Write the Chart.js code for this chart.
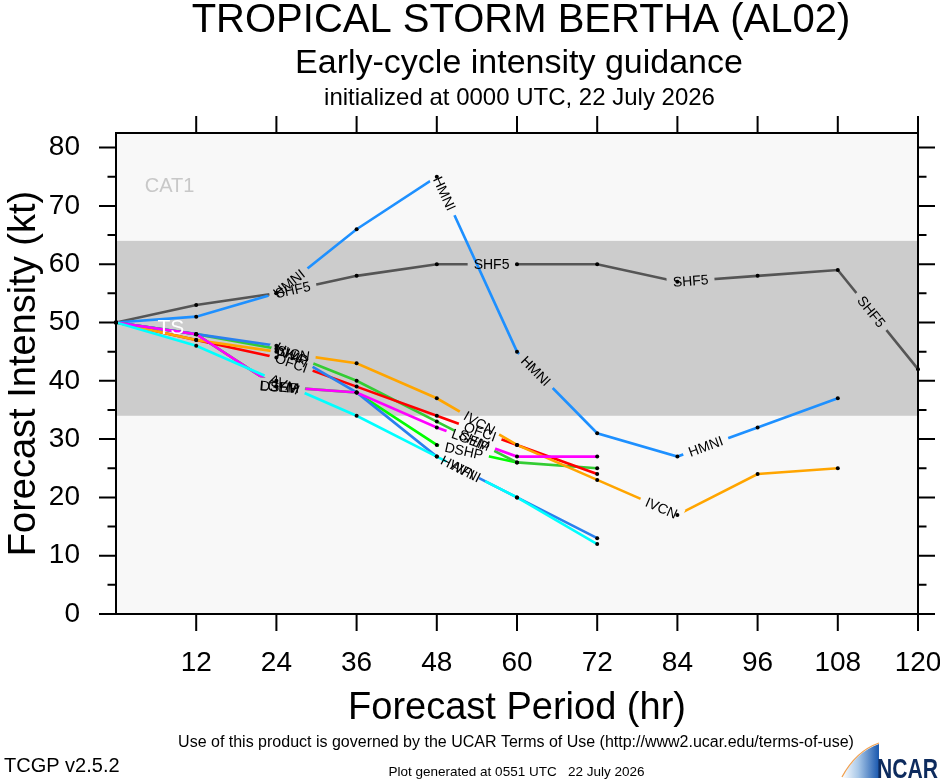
<!DOCTYPE html>
<html><head><meta charset="utf-8">
<script src="https://cdn.jsdelivr.net/npm/chart.js@4.4.1/dist/chart.umd.min.js"></script>
<style>html,body{margin:0;padding:0;background:#fff;}canvas{display:block;}</style>
</head><body>
<canvas id="c" width="940" height="780" style="width:940px;height:780px"></canvas>
<script>
// ---------- data ----------
const hours = [0, 12, 24, 36, 48, 60, 72, 84, 96, 108, 120];
const xTickLabels = ['', '12', '24', '36', '48', '60', '72', '84', '96', '108', '120'];
const yTickLabels = ['0', '10', '20', '30', '40', '50', '60', '70', '80'];
const modelNames = ['SHF5', 'HMNI', 'DSHP', 'SHIP', 'OFCI', 'IVCN', 'HWFI', 'LGEM', 'AVNI'];
const shf5 = [50, 53, 55, 58, 60, 60, 60, 57, 58, 59, 42];
const hmni = [50, 51, 55, 66, 75, 45, 31, 27, 32, 37];
const dshp = [50, 48, 39, 38, 29, 26];
const ship = [50, 48, 45.5, 40, 33, 26, 25];
const ofci = [50, 47, 44, 39, 34, 29, 24];
const ivcn = [50, 47, 45, 43, 37, 29, 23, 17, 24, 25];
const hwfi = [50, 48, 46, 38, 27, 20, 13];
const lgem = [50, 48, 39, 38, 32, 27, 27];
const avni = [50, 46, 40, 34, 27, 20, 12];
const seriesValues = [shf5, hmni, dshp, ship, ofci, ivcn, hwfi, lgem, avni];
const seriesColors = ['#555555', '#1e90ff', '#00ff00', '#33cc33', '#ff0000', '#ffa500', '#2a80ee', '#ff00ff', '#00ffff'];
const tsBand = [34, 64];
const bandNames = ['CAT1', 'TS'];

const FONT = '"Liberation Sans", Arial, Helvetica, sans-serif';
const LABEL_FONT = '14px ' + FONT;
const LABEL_FIRST = 180, LABEL_STEP = 201;

function computeLabels(ctx, pts, text) {
  ctx.save(); ctx.font = LABEL_FONT; const w = ctx.measureText(text).width; ctx.restore();
  const segs = []; let total = 0;
  for (let i = 0; i < pts.length - 1; i++) {
    const dx = pts[i + 1].x - pts[i].x, dy = pts[i + 1].y - pts[i].y, L = Math.hypot(dx, dy);
    segs.push({ a: pts[i], dx, dy, L, s0: total }); total += L;
  }
  const out = [];
  for (let s = LABEL_FIRST; s + w / 2 <= total; s += LABEL_STEP) {
    const g = segs.find(q => s >= q.s0 && s <= q.s0 + q.L);
    if (!g) continue;
    const t = (s - g.s0) / g.L;
    out.push({ x: g.a.x + g.dx * t, y: g.a.y + g.dy * t, ang: Math.atan2(g.dy, g.dx), w, text });
  }
  return out;
}

const decor = {
  id: 'decor',
  beforeDatasetsDraw(chart) {
    const { ctx, chartArea: a, scales: { x, y } } = chart;
    ctx.save();
    ctx.fillStyle = '#f8f8f8';
    ctx.fillRect(a.left, a.top, a.right - a.left, a.bottom - a.top);
    const y1 = y.getPixelForValue(tsBand[1]), y0 = y.getPixelForValue(tsBand[0]);
    ctx.fillStyle = '#cccccc';
    ctx.fillRect(a.left, y1, a.right - a.left, y0 - y1);
    ctx.textAlign = 'left'; ctx.textBaseline = 'middle';
    ctx.font = '20px ' + FONT; ctx.fillStyle = '#c8c8c8';
    ctx.fillText(bandNames[0], x.getPixelForValue(4.3), y.getPixelForValue(73.4));
    ctx.restore();
    chart.data.datasets.forEach((ds, i) => {
      const meta = chart.getDatasetMeta(i);
      meta._lbls = computeLabels(ctx, meta.data.map(p => ({ x: p.x, y: p.y })), ds.label);
    });
  },
  beforeDatasetDraw(chart, args) {
    const ctx = chart.ctx, lbls = args.meta._lbls || [];
    ctx.save();
    ctx.beginPath();
    ctx.rect(0, 0, chart.width, chart.height);
    for (const l of lbls) {
      const hw = l.w / 2 + 6, hh = 8, c = Math.cos(l.ang), s = Math.sin(l.ang);
      const cs = [[-hw, -hh], [hw, -hh], [hw, hh], [-hw, hh]].map(([u, v]) => [l.x + u * c - v * s, l.y + u * s + v * c]);
      ctx.moveTo(cs[0][0], cs[0][1]);
      for (let k = 1; k < 4; k++) ctx.lineTo(cs[k][0], cs[k][1]);
      ctx.closePath();
    }
    ctx.clip('evenodd');
  },
  afterDatasetDraw(chart) { chart.ctx.restore(); },
  afterDatasetsDraw(chart) {
    const { ctx, chartArea: a, scales: { x, y } } = chart;
    ctx.save();
    // TS band name over lines
    ctx.textAlign = 'left'; ctx.textBaseline = 'middle';
    ctx.font = '21px ' + FONT; ctx.fillStyle = '#ffffff';
    ctx.fillText(bandNames[1], x.getPixelForValue(6.2), y.getPixelForValue(49.1));
    // markers
    ctx.fillStyle = '#000';
    chart.data.datasets.forEach((ds, i) => {
      chart.getDatasetMeta(i).data.forEach(p => { ctx.beginPath(); ctx.arc(p.x, p.y, 2, 0, Math.PI * 2); ctx.fill(); });
    });
    // line labels
    ctx.font = LABEL_FONT; ctx.textAlign = 'center'; ctx.textBaseline = 'middle'; ctx.fillStyle = '#000';
    chart.data.datasets.forEach((ds, i) => {
      for (const l of chart.getDatasetMeta(i)._lbls || []) {
        ctx.save(); ctx.translate(l.x, l.y); ctx.rotate(l.ang); ctx.fillText(l.text, 0, 1); ctx.restore();
      }
    });
    // frame & ticks
    ctx.strokeStyle = '#000'; ctx.lineWidth = 2; ctx.lineCap = 'butt';
    ctx.strokeRect(a.left, a.top, a.right - a.left, a.bottom - a.top);
    ctx.beginPath();
    hours.forEach(h => {
      if (h === 0) return;
      const px = x.getPixelForValue(h);
      ctx.moveTo(px, a.bottom); ctx.lineTo(px, a.bottom + 17);
      ctx.moveTo(px, a.top); ctx.lineTo(px, a.top - 17);
    });
    for (let v = 0; v <= 80; v += 5) {
      const py = y.getPixelForValue(v), len = v % 10 === 0 ? 17 : 8.5;
      ctx.moveTo(a.left - len, py); ctx.lineTo(a.left, py);
      ctx.moveTo(a.right, py); ctx.lineTo(a.right + len, py);
    }
    ctx.stroke();
    ctx.restore();
  },
  afterDraw(chart) {
    const ctx = chart.ctx;
    ctx.save();
    ctx.fillStyle = '#000'; ctx.textAlign = 'center'; ctx.textBaseline = 'alphabetic';
    ctx.font = '40px ' + FONT; ctx.fillText('TROPICAL STORM BERTHA (AL02)', 521, 32);
    ctx.font = '34px ' + FONT; ctx.fillText('Early-cycle intensity guidance', 519, 73);
    ctx.font = '24px ' + FONT; ctx.fillText('initialized at 0000 UTC, 22 July 2026', 519.5, 105);
    ctx.font = '16px ' + FONT; ctx.fillText('Use of this product is governed by the UCAR Terms of Use (http://www2.ucar.edu/terms-of-use)', 516, 747);
    ctx.font = '13.5px ' + FONT; ctx.fillText('Plot generated at 0551 UTC   22 July 2026', 516.5, 776);
    ctx.textAlign = 'left'; ctx.font = '20px ' + FONT; ctx.fillText('TCGP v2.5.2', 4, 772);
    // NCAR logo
    const g = ctx.createLinearGradient(842, 0, 878, 0);
    g.addColorStop(0, '#ffffff'); g.addColorStop(0.45, '#a9c8e8'); g.addColorStop(1, '#1f5cb0');
    ctx.beginPath(); ctx.moveTo(842, 778); ctx.quadraticCurveTo(856, 752, 879, 744); ctx.lineTo(879, 778); ctx.closePath();
    ctx.fillStyle = g; ctx.fill();
    ctx.strokeStyle = '#f0a050'; ctx.lineWidth = 1.3;
    ctx.beginPath(); ctx.moveTo(842, 777); ctx.quadraticCurveTo(856, 751, 879, 743); ctx.stroke();
    ctx.fillStyle = '#0d2b5e'; ctx.font = 'bold 28px ' + FONT;
    ctx.fillText('NCAR', 877, 778, 61);
    ctx.restore();
  }
};

const datasets = seriesValues.map((vals, i) => ({
  label: modelNames[i],
  data: vals.map((v, k) => ({ x: hours[k], y: v })),
  borderColor: seriesColors[i],
  backgroundColor: seriesColors[i],
  borderWidth: 2.6,
  pointRadius: 0,
  pointHoverRadius: 0,
  tension: 0,
  fill: false,
  order: -i
}));

new Chart(document.getElementById('c'), {
  type: 'line',
  data: { datasets },
  plugins: [decor],
  options: {
    responsive: false, animation: false, devicePixelRatio: 1,
    layout: { padding: { top: 133, right: 22, left: 0, bottom: 0 } },
    plugins: { legend: { display: false }, tooltip: { enabled: false }, title: { display: false } },
    events: [],
    scales: {
      x: {
        type: 'linear', min: 0, max: 120,
        grid: { display: false, drawTicks: false },
        border: { display: false },
        ticks: {
          stepSize: 12, autoSkip: false, maxRotation: 0, includeBounds: false, padding: 32,
          color: '#000', font: { family: FONT, size: 28 },
          callback: (v) => xTickLabels[hours.indexOf(v)] ?? ''
        },
        title: { display: true, text: 'Forecast Period (hr)', color: '#000', font: { family: FONT, size: 38, lineHeight: 1.2 }, padding: { top: 0, bottom: 49 } },
        afterFit(s) { s.height = 166; s.paddingLeft = 0; s.paddingRight = 0; }
      },
      y: {
        type: 'linear', min: 0, max: 82.5,
        grid: { display: false, drawTicks: false },
        border: { display: false },
        ticks: {
          stepSize: 10, includeBounds: false, padding: 36,
          color: '#000', font: { family: FONT, size: 28 },
          callback: (v) => yTickLabels[Math.round(v / 10)] ?? ''
        },
        title: { display: true, text: 'Forecast Intensity (kt)', color: '#000', font: { family: FONT, size: 38, lineHeight: 1.2 }, padding: { top: 2, bottom: 0 } },
        afterFit(s) { s.width = 116; s.paddingTop = 0; s.paddingBottom = 0; }
      }
    }
  }
});
</script>
</body></html>
